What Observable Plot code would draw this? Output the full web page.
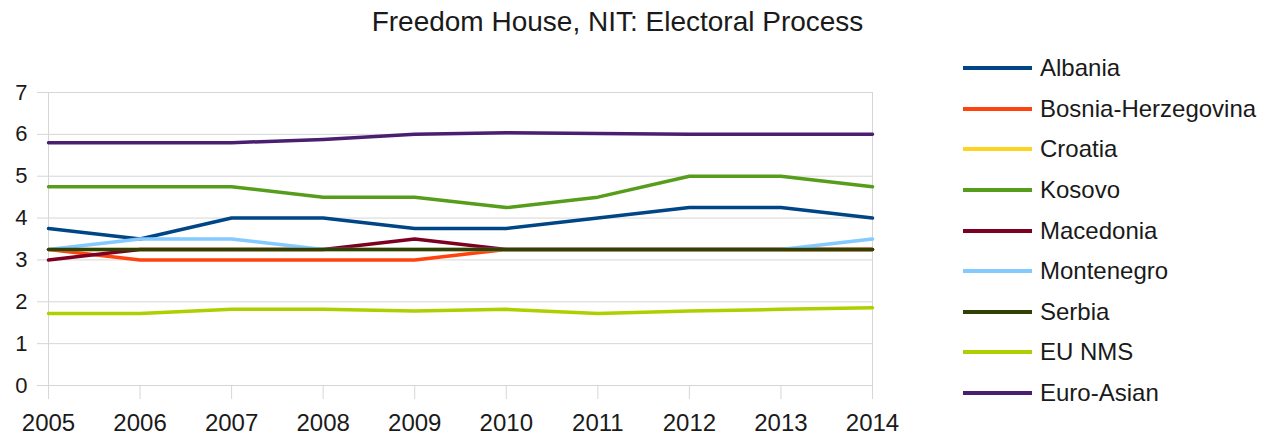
<!DOCTYPE html>
<html>
<head>
<meta charset="utf-8">
<script src="https://cdn.jsdelivr.net/npm/d3@7"></script>
<script src="https://cdn.jsdelivr.net/npm/@observablehq/plot@0.6"></script>
<style>
  body { margin: 0; background: #fff; font-family: "Liberation Sans", Arial, sans-serif; color: #1a1a1a; }
  #wrap { position: relative; width: 1281px; height: 438px; overflow: hidden; }
  #title { position: absolute; left: 0; top: 0; width: 1235px; height: 40px; line-height: 44px; text-align: center; font-size: 28px; }
  #chart { position: absolute; left: 0; top: 40px; }
  #legend { position: absolute; left: 963px; top: 48px; }
  .row { display: flex; align-items: center; height: 40.6px; font-size: 24px; white-space: nowrap; }
  .sw { display: inline-block; width: 69px; height: 4px; margin-right: 8px; }
</style>
</head>
<body>
<div id="wrap">
  <div id="title">Freedom House, NIT: Electoral Process</div>
  <div id="chart"></div>
  <div id="legend"></div>
</div>
<script>
const years = [2005, 2006, 2007, 2008, 2009, 2010, 2011, 2012, 2013, 2014];
const yTicks = [0, 1, 2, 3, 4, 5, 6, 7];
const countries = ["Albania", "Bosnia-Herzegovina", "Croatia", "Kosovo", "Macedonia", "Montenegro", "Serbia", "EU NMS", "Euro-Asian"];
const colors = ["#004586", "#ff420e", "#ffd320", "#579d1c", "#7e0021", "#83caff", "#314004", "#aecf00", "#4b1f6f"];

const albania    = [3.75, 3.5, 4.0, 4.0, 3.75, 3.75, 4.0, 4.25, 4.25, 4.0];
const bosnia     = [3.25, 3.0, 3.0, 3.0, 3.0, 3.25, 3.25, 3.25, 3.25, 3.25];
const croatia    = [3.25, 3.25, 3.25, 3.25, 3.25, 3.25, 3.25, 3.25, 3.25, 3.25];
const kosovo     = [4.75, 4.75, 4.75, 4.5, 4.5, 4.25, 4.5, 5.0, 5.0, 4.75];
const macedonia  = [3.0, 3.25, 3.25, 3.25, 3.5, 3.25, 3.25, 3.25, 3.25, 3.25];
const montenegro = [3.25, 3.5, 3.5, 3.25, 3.25, 3.25, 3.25, 3.25, 3.25, 3.5];
const serbia     = [3.25, 3.25, 3.25, 3.25, 3.25, 3.25, 3.25, 3.25, 3.25, 3.25];
const euNms      = [1.72, 1.72, 1.82, 1.82, 1.78, 1.82, 1.72, 1.78, 1.82, 1.86];
const euroAsian  = [5.8, 5.8, 5.8, 5.88, 6.0, 6.04, 6.02, 6.0, 6.0, 6.0];

const seriesValues = [albania, bosnia, croatia, kosovo, macedonia, montenegro, serbia, euNms, euroAsian];

const data = countries.flatMap((c, i) => years.map((yr, j) => ({country: c, year: yr, value: seriesValues[i][j]})));

const grid = "#d6d6d6";
const chart = Plot.plot({
  width: 920,
  height: 398,
  marginTop: 52,
  marginBottom: 53,
  marginLeft: 48,
  marginRight: 48,
  style: {fontFamily: "'Liberation Sans', Arial, sans-serif", color: "#1a1a1a", background: "#fff", overflow: "visible"},
  x: {domain: [2005, 2014]},
  y: {domain: [0, 7]},
  color: {domain: countries, range: colors},
  marks: [
    Plot.gridY(yTicks, {stroke: grid, strokeOpacity: 1}),
    Plot.ruleX([2005, 2014], {stroke: grid, strokeOpacity: 1}),
    Plot.axisY(yTicks, {tickSize: 11, tickPadding: 10, stroke: grid, fontSize: 22, fill: "#1a1a1a", label: null}),
    Plot.axisX(years, {tickSize: 14, tickPadding: 14, stroke: grid, fontSize: 24, fill: "#1a1a1a", tickFormat: d => String(d), label: null}),
    Plot.line(data, {x: "year", y: "value", z: "country", stroke: "country", strokeWidth: 3.5})
  ]
});
document.getElementById("chart").appendChild(chart);

const legend = document.getElementById("legend");
countries.forEach((c, i) => {
  const row = document.createElement("div");
  row.className = "row";
  const sw = document.createElement("span");
  sw.className = "sw";
  sw.style.background = colors[i];
  row.appendChild(sw);
  row.appendChild(document.createTextNode(c));
  legend.appendChild(row);
});
</script>
</body>
</html>
